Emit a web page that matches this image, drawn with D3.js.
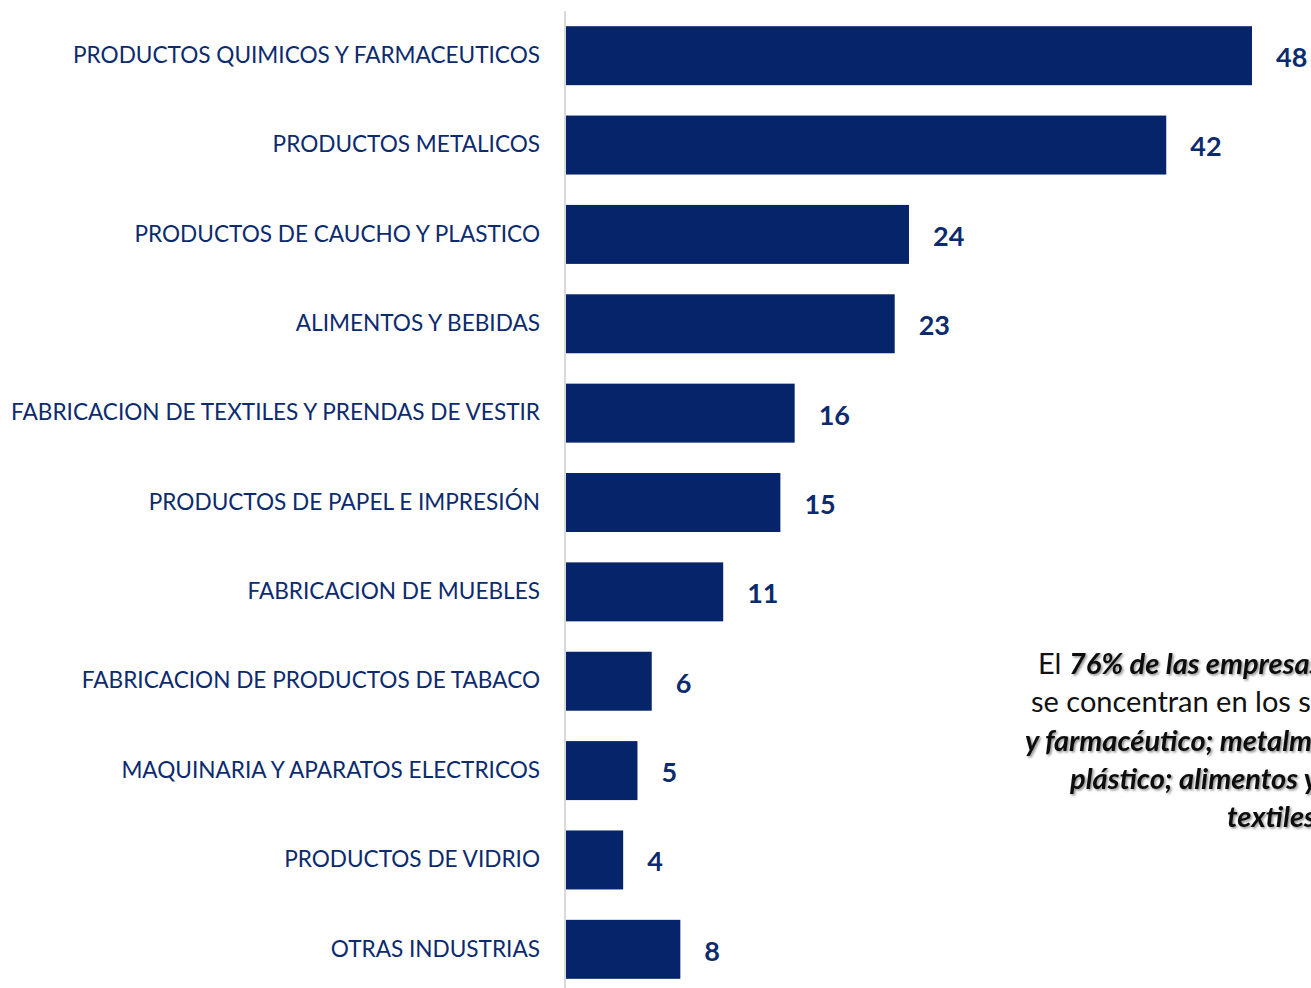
<!DOCTYPE html>
<html>
<head>
<meta charset="utf-8">
<script src="https://cdn.jsdelivr.net/npm/d3@7"></script>
<style>
  body { margin: 0; background: #fff; }
  svg { display: block; }
</style>
</head>
<body>
<svg width="1311" height="988"></svg>
<script>
// sectores y numero de empresas
var sectors = [
  "PRODUCTOS QUIMICOS Y FARMACEUTICOS",
  "PRODUCTOS METALICOS",
  "PRODUCTOS DE CAUCHO Y PLASTICO",
  "ALIMENTOS Y BEBIDAS",
  "FABRICACION DE TEXTILES Y PRENDAS DE VESTIR",
  "PRODUCTOS DE PAPEL E IMPRESIÓN",
  "FABRICACION DE MUEBLES",
  "FABRICACION DE PRODUCTOS DE TABACO",
  "MAQUINARIA Y APARATOS ELECTRICOS",
  "PRODUCTOS DE VIDRIO",
  "OTRAS INDUSTRIAS"
];
var companies = [48, 42, 24, 23, 16, 15, 11, 6, 5, 4, 8];

// nota de la derecha (se corta en el borde, como en el original)
var noteLines = [
  [{t: "El ", b: false}, {t: "76% de las empresas", b: true}],
  [{t: "se concentran en los sectores", b: false}],
  [{t: "y farmacéutico; metalmecánico", b: true}],
  [{t: "plástico; alimentos y", b: true}],
  [{t: "textiles.", b: true}]
];
var noteX = [1038, 1031, 1025, 1070, 1227];

var data = sectors.map(function(d, i) { return {name: d, value: companies[i]}; });

var barColor = "#05246a";
var labelColor = "#0c2b6e";
var axisX = 565;

var svg = d3.select("svg");

var defs = svg.append("defs");
var f = defs.append("filter").attr("id", "shadow").attr("x", "-5%").attr("y", "-20%").attr("width", "110%").attr("height", "150%");
f.append("feDropShadow").attr("dx", 1.5).attr("dy", 1.5).attr("stdDeviation", 1)
  .attr("flood-color", "#000").attr("flood-opacity", 0.45);

var x = d3.scaleLinear().domain([0, 48]).range([axisX + 1, 1252]);
var y = d3.scaleBand()
  .domain(sectors)
  .range([11, 994])
  .paddingInner(0.34)
  .paddingOuter(0.17);

// bars
svg.selectAll("rect.bar")
  .data(data)
  .enter()
  .append("rect")
  .attr("class", "bar")
  .attr("x", x(0))
  .attr("y", function(d) { return y(d.name); })
  .attr("width", function(d) { return x(d.value) - x(0); })
  .attr("height", y.bandwidth())
  .style("fill", barColor);

// axis line + category labels
var yAxis = d3.axisLeft(y).tickSize(0).tickPadding(25);
var gAxis = svg.append("g")
  .attr("transform", "translate(" + axisX + ",0)")
  .call(yAxis);
gAxis.select(".domain").attr("d", "M0,11V988").attr("stroke", "#d9d9d9").attr("stroke-width", 2);
gAxis.selectAll(".tick text")
  .style("font-family", "Lato, 'Open Sans', sans-serif")
  .style("font-size", "22.6px")
  .style("fill", labelColor);

// value labels
svg.selectAll("text.value")
  .data(data)
  .enter()
  .append("text")
  .attr("class", "value")
  .attr("x", function(d) { return x(d.value) + 24; })
  .attr("y", function(d) { return y(d.name) + y.bandwidth() / 2 + 2; })
  .attr("dy", "0.35em")
  .style("font-family", "Lato, 'Open Sans', sans-serif")
  .style("font-weight", "bold")
  .style("font-size", "27px")
  .style("fill", labelColor)
  .text(function(d) { return d.value; });

// note
var note = svg.append("g");
noteLines.forEach(function(line, i) {
  var t = note.append("text")
    .attr("x", noteX[i])
    .attr("y", 664 + i * 38.3)
    .attr("dy", "0.35em")
    .style("font-family", "Lato, 'Open Sans', sans-serif")
    .style("font-size", "29px")
    .style("fill", "#111");
  line.forEach(function(part) {
    var s = t.append("tspan").text(part.t);
    if (part.b) {
      s.style("font-weight", "bold").style("font-style", "italic").attr("filter", "url(#shadow)");
    }
  });
});
</script>
</body>
</html>
